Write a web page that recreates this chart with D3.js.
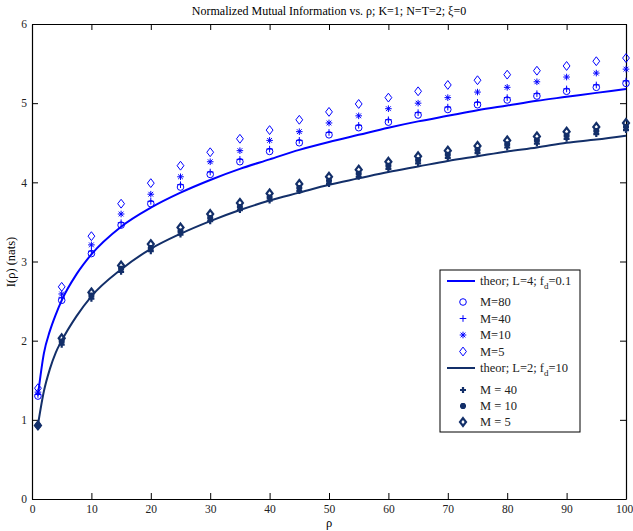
<!DOCTYPE html>
<html>
<head>
<meta charset="utf-8">
<script src="https://cdn.jsdelivr.net/npm/d3@7"></script>
<style>
  body { margin: 0; background: #fff; }
  text { font-family: "Liberation Serif", "DejaVu Serif", serif; }
</style>
</head>
<body>
<svg id="chart" width="633" height="531"></svg>
<script>
// data
var rhoTheor = [1, 2, 3, 4, 5, 7.5, 10, 15, 20, 25, 30, 35, 40, 45, 50, 55, 60, 65, 70, 75, 80, 85, 90, 95, 100];
var theorL4 = [1.31, 1.84, 2.12, 2.33, 2.51, 2.84, 3.09, 3.44, 3.68, 3.87, 4.03, 4.17, 4.29, 4.41, 4.51, 4.60, 4.69, 4.77, 4.84, 4.91, 4.97, 5.03, 5.08, 5.13, 5.18];
var theorL2 = [0.935, 1.36, 1.64, 1.85, 2.00, 2.31, 2.56, 2.90, 3.16, 3.35, 3.51, 3.65, 3.77, 3.87, 3.97, 4.05, 4.13, 4.20, 4.27, 4.33, 4.39, 4.44, 4.50, 4.54, 4.59];

var rhoSim = [1, 5, 10, 15, 20, 25, 30, 35, 40, 45, 50, 55, 60, 65, 70, 75, 80, 85, 90, 95, 100];
// L=4, fd=0.1
var m80 = [1.30, 2.51, 3.10, 3.46, 3.73, 3.94, 4.10, 4.26, 4.39, 4.50, 4.60, 4.69, 4.76, 4.85, 4.92, 4.98, 5.04, 5.09, 5.15, 5.20, 5.25];
var m40 = [1.32, 2.54, 3.13, 3.49, 3.76, 3.97, 4.13, 4.29, 4.42, 4.53, 4.63, 4.72, 4.79, 4.88, 4.95, 5.01, 5.07, 5.12, 5.18, 5.23, 5.28];
var m10 = [1.35, 2.59, 3.21, 3.60, 3.85, 4.07, 4.26, 4.40, 4.53, 4.64, 4.75, 4.84, 4.93, 5.00, 5.07, 5.14, 5.20, 5.27, 5.33, 5.38, 5.43];
var m5 = [1.40, 2.68, 3.32, 3.73, 3.99, 4.21, 4.38, 4.55, 4.66, 4.79, 4.89, 4.99, 5.07, 5.15, 5.23, 5.29, 5.36, 5.41, 5.47, 5.53, 5.57];
// L=2, fd=10
var n40 = [0.92, 1.95, 2.53, 2.87, 3.13, 3.34, 3.51, 3.65, 3.77, 3.89, 3.98, 4.07, 4.17, 4.24, 4.31, 4.37, 4.44, 4.49, 4.55, 4.61, 4.66];
var n10 = [0.93, 1.99, 2.57, 2.91, 3.17, 3.38, 3.55, 3.69, 3.81, 3.93, 4.02, 4.11, 4.21, 4.28, 4.35, 4.41, 4.48, 4.53, 4.59, 4.65, 4.70];
var n5 = [0.93, 2.03, 2.61, 2.95, 3.22, 3.43, 3.60, 3.74, 3.86, 3.98, 4.07, 4.16, 4.26, 4.33, 4.40, 4.46, 4.53, 4.58, 4.64, 4.70, 4.75];

var xTicks = [0, 10, 20, 30, 40, 50, 60, 70, 80, 90, 100];
var yTicks = [0, 1, 2, 3, 4, 5, 6];

var blue = '#0000ff';
var navy = '#132f69';

var svg = d3.select('#chart');
// plot box (note: can't call it "top", window.top is taken)
var boxLeft = 32, boxRight = 626, boxTop = 24, boxBottom = 499;

var x = d3.scaleLinear().domain([0, 100]).range([boxLeft, boxRight]);
var y = d3.scaleLinear().domain([0, 6]).range([boxBottom, boxTop]);

// title
svg.append('text').attr('x', 329).attr('y', 15).attr('text-anchor', 'middle')
  .style('font-size', '12px').text('Normalized Mutual Information vs. ρ; K=1; N=T=2; ξ=0');

// axes with inward ticks on all four sides
var styleAxis = function(g) {
  g.select('.domain').attr('stroke', '#000').attr('stroke-width', 1.2);
  g.selectAll('.tick line').attr('stroke', '#000');
  g.selectAll('text').style('font-family', '"Liberation Serif", serif').style('font-size', '11.5px').attr('fill', '#222');
};
var xAxis = svg.append('g').attr('transform', 'translate(0,' + boxBottom + ')')
  .call(d3.axisBottom(x).tickValues(xTicks).tickSize(-6).tickPadding(6).tickSizeOuter(0)).call(styleAxis);
xAxis.selectAll('.tick text').filter(function(d) { return d == 100; }).attr('dx', -2); // keep "100" mostly on the page
svg.append('g').attr('transform', 'translate(0,' + boxTop + ')')
  .call(d3.axisTop(x).tickValues(xTicks).tickSize(-6).tickFormat('').tickSizeOuter(0)).call(styleAxis);
svg.append('g').attr('transform', 'translate(' + boxLeft + ',0)')
  .call(d3.axisLeft(y).tickValues(yTicks).tickFormat(d3.format('d')).tickSize(-6).tickPadding(5).tickSizeOuter(0)).call(styleAxis);
svg.append('g').attr('transform', 'translate(' + boxRight + ',0)')
  .call(d3.axisRight(y).tickValues(yTicks).tickSize(-6).tickFormat('').tickSizeOuter(0)).call(styleAxis);

// axis labels
svg.append('text').attr('x', 329).attr('y', 527).attr('text-anchor', 'middle')
  .style('font-size', '12.5px').text('ρ');
svg.append('text').attr('transform', 'translate(15,262) rotate(-90)').attr('text-anchor', 'middle')
  .style('font-size', '12.5px').text('I(ρ) (nats)');

// marker shapes (path strings around 0,0)
var shapes = {
  circle: function(s) { return 'M' + s + ',0A' + s + ',' + s + ' 0 1,1 ' + (-s) + ',0A' + s + ',' + s + ' 0 1,1 ' + s + ',0Z'; },
  plus: function(s) { return 'M' + (-s) + ',0H' + s + 'M0,' + (-s) + 'V' + s; },
  star: function(s) {
    var d = s * 0.72;
    return 'M' + (-s) + ',0H' + s + 'M0,' + (-s) + 'V' + s +
      'M' + (-d) + ',' + (-d) + 'L' + d + ',' + d + 'M' + (-d) + ',' + d + 'L' + d + ',' + (-d);
  },
  diamond: function(s) { return 'M0,' + (-s * 1.3) + 'L' + s + ',0L0,' + (s * 1.3) + 'L' + (-s) + ',0Z'; }
};

var line = d3.line().x(function(d) { return x(d[0]); }).y(function(d) { return y(d[1]); }).curve(d3.curveMonotoneX);

var drawLine = function(vals, color) {
  svg.append('path').datum(d3.zip(rhoTheor, vals)).attr('d', line)
    .attr('fill', 'none').attr('stroke', color).attr('stroke-width', 2);
};

var drawMarkers = function(vals, shape, size, color, width) {
  svg.append('g').selectAll('path').data(d3.zip(rhoSim, vals)).enter().append('path')
    .attr('transform', function(d) { return 'translate(' + x(d[0]) + ',' + y(d[1]) + ')'; })
    .attr('d', shapes[shape](size))
    .attr('fill', 'none').attr('stroke', color).attr('stroke-width', width);
};

drawLine(theorL4, blue);
drawLine(theorL2, navy);
drawMarkers(m80, 'circle', 3.3, blue, 1);
drawMarkers(m40, 'plus', 3.3, blue, 1);
drawMarkers(m10, 'star', 3.3, blue, 1);
drawMarkers(m5, 'diamond', 3.4, blue, 1);
drawMarkers(n40, 'plus', 3, navy, 2.2);
drawMarkers(n10, 'star', 3, navy, 2.2);
drawMarkers(n5, 'diamond', 3, navy, 2.2);

// legend
var legend = svg.append('g');
legend.append('rect').attr('x', 440).attr('y', 270).attr('width', 140).attr('height', 162)
  .attr('fill', '#fff').attr('stroke', '#000').attr('stroke-width', 1);

var entries = [
  { kind: 'line', color: blue, label: ['theor; L=4; f', 'd', '=0.1'], y: 281 },
  { kind: 'circle', color: blue, w: 1, s: 3.3, label: ['M=80'], y: 302 },
  { kind: 'plus', color: blue, w: 1, s: 3.3, label: ['M=40'], y: 318.5 },
  { kind: 'star', color: blue, w: 1, s: 3.3, label: ['M=10'], y: 335 },
  { kind: 'diamond', color: blue, w: 1, s: 3.4, label: ['M=5'], y: 351.5 },
  { kind: 'line', color: navy, label: ['theor; L=2; f', 'd', '=10'], y: 368 },
  { kind: 'plus', color: navy, w: 2.2, s: 3, label: ['M = 40'], y: 390 },
  { kind: 'star', color: navy, w: 2.2, s: 3, label: ['M = 10'], y: 406 },
  { kind: 'diamond', color: navy, w: 2.2, s: 3, label: ['M = 5'], y: 422 }
];

entries.forEach(function(e) {
  if (e.kind == 'line') {
    legend.append('line').attr('x1', 447).attr('x2', 475).attr('y1', e.y).attr('y2', e.y)
      .attr('stroke', e.color).attr('stroke-width', 2);
  } else {
    legend.append('path').attr('transform', 'translate(463,' + e.y + ')')
      .attr('d', shapes[e.kind](e.s)).attr('fill', 'none').attr('stroke', e.color).attr('stroke-width', e.w);
  }
  var t = legend.append('text').attr('x', 480).attr('y', e.y + 4).style('font-size', '12.5px').attr('fill', '#222');
  t.append('tspan').text(e.label[0]);
  if (e.label.length > 1) { //subscript d
    t.append('tspan').attr('dy', 4).style('font-size', '9px').text(e.label[1]);
    t.append('tspan').attr('dy', -4).text(e.label[2]);
  }
});
</script>
</body>
</html>
